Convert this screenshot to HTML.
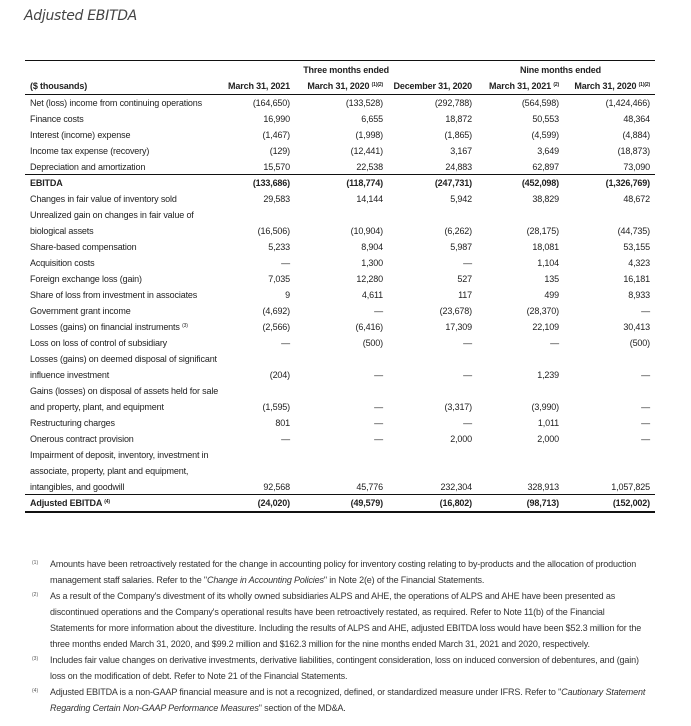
<!DOCTYPE html>
<html><head><meta charset="utf-8"><style>
body{margin:0;background:#fff;width:691px;height:726px;position:relative;overflow:hidden;font-family:"Liberation Sans",Arial,sans-serif;color:#222}
.t{position:absolute;left:24px;top:8px;font-size:14px;font-style:italic;color:#444;font-family:"DejaVu Sans","Liberation Sans",sans-serif;letter-spacing:-0.3px}
.r{position:absolute;left:0;width:691px;height:14px;font-size:9px;letter-spacing:-0.15px;line-height:14px}
.r span{position:absolute;white-space:nowrap}
.l{left:30px}
.c1{right:401px}.c2{right:308px}.c3{right:219px}.c4{right:132px}.c5{right:41px}
.b{font-weight:bold}
.hr{position:absolute;left:25px;width:630px;background:#111}
sup{font-size:5px;position:relative;top:-3px;vertical-align:baseline;line-height:0}
.f{position:absolute;left:50px;font-size:9px;letter-spacing:-0.15px;line-height:12px;white-space:nowrap;color:#333}
.m{position:absolute;left:32px;font-size:5px;color:#555}
</style></head><body>
<div class="t">Adjusted EBITDA</div>
<div class="hr" style="top:60px;height:1px"></div>
<div class="r b" style="top:63px"><span style="right:302px">Three months ended</span><span style="right:90px">Nine months ended</span></div>
<div class="r b" style="top:79px"><span class="l">($ thousands)</span><span class="c1">March 31, 2021</span><span class="c2">March 31, 2020 <sup>(1)(2)</sup></span><span class="c3">December 31, 2020</span><span class="c4">March 31, 2021 <sup>(2)</sup></span><span class="c5">March 31, 2020 <sup>(1)(2)</sup></span></div>
<div class="hr" style="top:94px;height:1px"></div>
<div class="r" style="top:96px"><span class="l">Net (loss) income from continuing operations</span><span class="c1">(164,650)</span><span class="c2">(133,528)</span><span class="c3">(292,788)</span><span class="c4">(564,598)</span><span class="c5">(1,424,466)</span></div>
<div class="r" style="top:112px"><span class="l">Finance costs</span><span class="c1">16,990</span><span class="c2">6,655</span><span class="c3">18,872</span><span class="c4">50,553</span><span class="c5">48,364</span></div>
<div class="r" style="top:128px"><span class="l">Interest (income) expense</span><span class="c1">(1,467)</span><span class="c2">(1,998)</span><span class="c3">(1,865)</span><span class="c4">(4,599)</span><span class="c5">(4,884)</span></div>
<div class="r" style="top:144px"><span class="l">Income tax expense (recovery)</span><span class="c1">(129)</span><span class="c2">(12,441)</span><span class="c3">3,167</span><span class="c4">3,649</span><span class="c5">(18,873)</span></div>
<div class="r" style="top:160px"><span class="l">Depreciation and amortization</span><span class="c1">15,570</span><span class="c2">22,538</span><span class="c3">24,883</span><span class="c4">62,897</span><span class="c5">73,090</span></div>
<div class="hr" style="top:174px;height:1px"></div>
<div class="r b" style="top:176px"><span class="l">EBITDA</span><span class="c1">(133,686)</span><span class="c2">(118,774)</span><span class="c3">(247,731)</span><span class="c4">(452,098)</span><span class="c5">(1,326,769)</span></div>
<div class="r" style="top:192px"><span class="l">Changes in fair value of inventory sold</span><span class="c1">29,583</span><span class="c2">14,144</span><span class="c3">5,942</span><span class="c4">38,829</span><span class="c5">48,672</span></div>
<div class="r" style="top:208px"><span class="l">Unrealized gain on changes in fair value of</span></div>
<div class="r" style="top:224px"><span class="l">biological assets</span><span class="c1">(16,506)</span><span class="c2">(10,904)</span><span class="c3">(6,262)</span><span class="c4">(28,175)</span><span class="c5">(44,735)</span></div>
<div class="r" style="top:240px"><span class="l">Share-based compensation</span><span class="c1">5,233</span><span class="c2">8,904</span><span class="c3">5,987</span><span class="c4">18,081</span><span class="c5">53,155</span></div>
<div class="r" style="top:256px"><span class="l">Acquisition costs</span><span class="c1">—</span><span class="c2">1,300</span><span class="c3">—</span><span class="c4">1,104</span><span class="c5">4,323</span></div>
<div class="r" style="top:272px"><span class="l">Foreign exchange loss (gain)</span><span class="c1">7,035</span><span class="c2">12,280</span><span class="c3">527</span><span class="c4">135</span><span class="c5">16,181</span></div>
<div class="r" style="top:288px"><span class="l">Share of loss from investment in associates</span><span class="c1">9</span><span class="c2">4,611</span><span class="c3">117</span><span class="c4">499</span><span class="c5">8,933</span></div>
<div class="r" style="top:304px"><span class="l">Government grant income</span><span class="c1">(4,692)</span><span class="c2">—</span><span class="c3">(23,678)</span><span class="c4">(28,370)</span><span class="c5">—</span></div>
<div class="r" style="top:320px"><span class="l">Losses (gains) on financial instruments <sup>(3)</sup></span><span class="c1">(2,566)</span><span class="c2">(6,416)</span><span class="c3">17,309</span><span class="c4">22,109</span><span class="c5">30,413</span></div>
<div class="r" style="top:336px"><span class="l">Loss on loss of control of subsidiary</span><span class="c1">—</span><span class="c2">(500)</span><span class="c3">—</span><span class="c4">—</span><span class="c5">(500)</span></div>
<div class="r" style="top:352px"><span class="l">Losses (gains) on deemed disposal of significant</span></div>
<div class="r" style="top:368px"><span class="l">influence investment</span><span class="c1">(204)</span><span class="c2">—</span><span class="c3">—</span><span class="c4">1,239</span><span class="c5">—</span></div>
<div class="r" style="top:384px"><span class="l">Gains (losses) on disposal of assets held for sale</span></div>
<div class="r" style="top:400px"><span class="l">and property, plant, and equipment</span><span class="c1">(1,595)</span><span class="c2">—</span><span class="c3">(3,317)</span><span class="c4">(3,990)</span><span class="c5">—</span></div>
<div class="r" style="top:416px"><span class="l">Restructuring charges</span><span class="c1">801</span><span class="c2">—</span><span class="c3">—</span><span class="c4">1,011</span><span class="c5">—</span></div>
<div class="r" style="top:432px"><span class="l">Onerous contract provision</span><span class="c1">—</span><span class="c2">—</span><span class="c3">2,000</span><span class="c4">2,000</span><span class="c5">—</span></div>
<div class="r" style="top:448px"><span class="l">Impairment of deposit, inventory, investment in</span></div>
<div class="r" style="top:464px"><span class="l">associate, property, plant and equipment,</span></div>
<div class="r" style="top:480px"><span class="l">intangibles, and goodwill</span><span class="c1">92,568</span><span class="c2">45,776</span><span class="c3">232,304</span><span class="c4">328,913</span><span class="c5">1,057,825</span></div>
<div class="hr" style="top:494px;height:1px"></div>
<div class="r b" style="top:496px"><span class="l">Adjusted EBITDA <sup>(4)</sup></span><span class="c1">(24,020)</span><span class="c2">(49,579)</span><span class="c3">(16,802)</span><span class="c4">(98,713)</span><span class="c5">(152,002)</span></div>
<div class="hr" style="top:511px;height:2px"></div>

<div class="m" style="top:560px">(1)</div>
<div class="f" style="top:558px">Amounts have been retroactively restated for the change in accounting policy for inventory costing relating to by-products and the allocation of production</div>
<div class="f" style="top:574px">management staff salaries. Refer to the "<i>Change in Accounting Policies</i>" in Note 2(e) of the Financial Statements.</div>
<div class="m" style="top:592px">(2)</div>
<div class="f" style="top:590px">As a result of the Company's divestment of its wholly owned subsidiaries ALPS and AHE, the operations of ALPS and AHE have been presented as</div>
<div class="f" style="top:606px">discontinued operations and the Company's operational results have been retroactively restated, as required. Refer to Note 11(b) of the Financial</div>
<div class="f" style="top:622px">Statements for more information about the divestiture. Including the results of ALPS and AHE, adjusted EBITDA loss would have been $52.3 million for the</div>
<div class="f" style="top:638px">three months ended March 31, 2020, and $99.2 million and $162.3 million for the nine months ended March 31, 2021 and 2020, respectively.</div>
<div class="m" style="top:656px">(3)</div>
<div class="f" style="top:654px">Includes fair value changes on derivative investments, derivative liabilities, contingent consideration, loss on induced conversion of debentures, and (gain)</div>
<div class="f" style="top:670px">loss on the modification of debt. Refer to Note 21 of the Financial Statements.</div>
<div class="m" style="top:688px">(4)</div>
<div class="f" style="top:686px">Adjusted EBITDA is a non-GAAP financial measure and is not a recognized, defined, or standardized measure under IFRS. Refer to "<i>Cautionary Statement</i></div>
<div class="f" style="top:702px"><i>Regarding Certain Non-GAAP Performance Measures</i>" section of the MD&amp;A.</div>
</body></html>
